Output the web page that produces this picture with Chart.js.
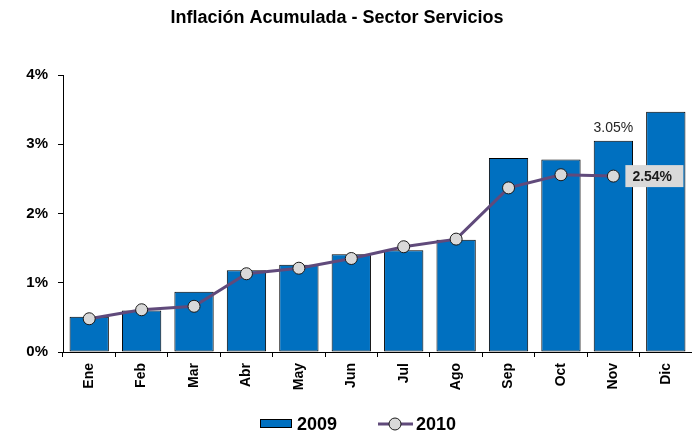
<!DOCTYPE html>
<html>
<head>
<meta charset="utf-8">
<script src="https://cdn.jsdelivr.net/npm/chart.js@4/dist/chart.umd.min.js"></script>
<style>
  body { margin: 0; background: #fff; }
  canvas { display: block; }
</style>
</head>
<body>
<canvas id="inflacionChart" width="692" height="436"></canvas>
<script>
// Datos
const meses = ["Ene", "Feb", "Mar", "Abr", "May", "Jun", "Jul", "Ago", "Sep", "Oct", "Nov", "Dic"];
const serie2009 = [0.51, 0.60, 0.87, 1.18, 1.26, 1.41, 1.47, 1.62, 2.80, 2.78, 3.05, 3.47];
const serie2010 = [0.48, 0.61, 0.66, 1.13, 1.21, 1.35, 1.52, 1.63, 2.37, 2.56, 2.54];
const yTicks = [0, 1, 2, 3, 4];

const FONT = "'Liberation Sans', Arial, sans-serif";
const AZUL = "#0070C0";
const MORADO = "#604A7B";
const GRIS = "#D9D9D9";

Chart.defaults.font.family = FONT;
Chart.defaults.color = "#000";

// Titulo, leyenda y etiquetas de valor
const extras = {
    id: "extras",
    afterDatasetsDraw(chart) {
        const ctx = chart.ctx;
        ctx.save();

        // etiqueta 2009 en noviembre
        const barMeta = chart.getDatasetMeta(0);
        const iBar = 10;
        const bar = barMeta.data[iBar];
        ctx.font = "14px " + FONT;
        ctx.fillStyle = "#262626";
        ctx.textAlign = "center";
        ctx.textBaseline = "alphabetic";
        ctx.fillText(serie2009[iBar].toFixed(2) + "%", bar.x, bar.y - 9);

        // etiqueta ultimo valor 2010
        const lineMeta = chart.getDatasetMeta(1);
        const iLast = serie2010.length - 1;
        const pt = lineMeta.data[iLast];
        ctx.fillStyle = GRIS;
        ctx.fillRect(pt.x + 12, pt.y - 11, 58, 22);
        ctx.font = "bold 14px " + FONT;
        ctx.fillStyle = "#1a1a1a";
        ctx.textAlign = "left";
        ctx.textBaseline = "middle";
        ctx.fillText(serie2010[iLast].toFixed(2) + "%", pt.x + 19, pt.y + 1);
        ctx.restore();
    },
    afterDraw(chart) {
        const ctx = chart.ctx;
        ctx.save();

        // titulo
        ctx.font = "bold 18px " + FONT;
        ctx.fillStyle = "#000";
        ctx.textAlign = "center";
        ctx.textBaseline = "alphabetic";
        ctx.fillText("Inflación Acumulada - Sector Servicios", 337, 23);

        // leyenda
        ctx.fillStyle = AZUL;
        ctx.fillRect(260, 419, 32, 9);
        ctx.strokeStyle = "#000";
        ctx.lineWidth = 1;
        ctx.strokeRect(260.5, 419.5, 31, 8);
        ctx.font = "bold 18px " + FONT;
        ctx.fillStyle = "#000";
        ctx.textAlign = "left";
        ctx.fillText("2009", 297, 430);

        ctx.strokeStyle = MORADO;
        ctx.lineWidth = 3;
        ctx.beginPath();
        ctx.moveTo(378, 424);
        ctx.lineTo(413, 424);
        ctx.stroke();
        ctx.beginPath();
        ctx.arc(395, 424, 6, 0, Math.PI * 2);
        ctx.fillStyle = GRIS;
        ctx.fill();
        ctx.lineWidth = 1;
        ctx.strokeStyle = "#1a1a1a";
        ctx.stroke();
        ctx.fillStyle = "#000";
        ctx.fillText("2010", 416, 430);
        ctx.restore();
    }
};

new Chart(document.getElementById("inflacionChart"), {
    type: "bar",
    data: {
        labels: meses,
        datasets: [
            {
                label: "2009",
                data: serie2009,
                backgroundColor: AZUL,
                borderColor: "#000",
                borderWidth: 1,
                borderSkipped: false,
                categoryPercentage: 0.75,
                barPercentage: 1,
                order: 2
            },
            {
                type: "line",
                label: "2010",
                data: serie2010,
                borderColor: MORADO,
                borderWidth: 3,
                pointRadius: 6,
                pointBackgroundColor: GRIS,
                pointBorderColor: "#1a1a1a",
                pointBorderWidth: 1,
                tension: 0,
                order: 1
            }
        ]
    },
    options: {
        responsive: false,
        animation: false,
        layout: {
            autoPadding: false,
            padding: { top: 75, bottom: 36, left: 0, right: 0 }
        },
        plugins: {
            legend: { display: false },
            title: { display: false },
            tooltip: { enabled: false }
        },
        scales: {
            x: {
                afterFit: (scale) => {
                    scale.height = 48;
                    scale.paddingLeft = 0;
                    scale.paddingRight = 0;
                },
                grid: {
                    drawOnChartArea: false,
                    drawTicks: true,
                    tickLength: 5,
                    color: "#000",
                    offset: true
                },
                border: { color: "#000", width: 1 },
                ticks: {
                    minRotation: 90,
                    maxRotation: 90,
                    padding: 6,
                    color: "#000",
                    font: { size: 14, weight: "bold" }
                }
            },
            y: {
                min: 0,
                max: 4,
                afterFit: (scale) => { scale.width = 63; },
                afterBuildTicks: (scale) => {
                    scale.ticks = yTicks.map(v => ({ value: v }));
                },
                grid: {
                    drawOnChartArea: false,
                    drawTicks: true,
                    tickLength: 5,
                    color: "#000"
                },
                border: { color: "#000", width: 1 },
                ticks: {
                    padding: 10,
                    color: "#000",
                    font: { size: 15, weight: "bold" },
                    callback: (v) => v + "%"
                }
            }
        }
    },
    plugins: [extras]
});
</script>
</body>
</html>
